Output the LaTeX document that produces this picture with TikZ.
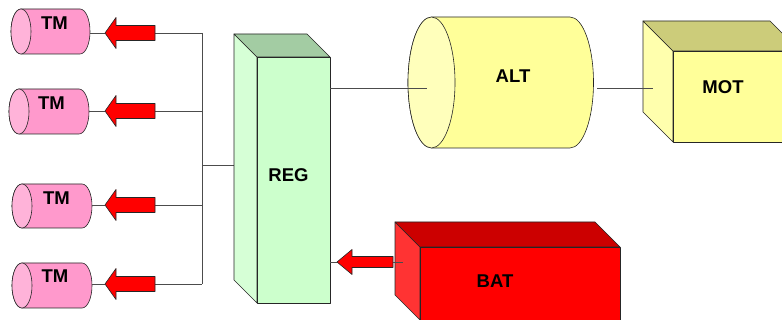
\documentclass[tikz,border=0pt]{standalone}
\usepackage{fontspec}
\setmainfont{Liberation Sans}
\begin{document}
\begin{tikzpicture}[x=1pt,y=-1pt,
  wire/.style={draw=black!70,line width=0.8pt},
  edge/.style={draw=black!85,line width=0.6pt,line join=round},
  lbl/.style={font=\fontsize{18.5}{20}\selectfont\bfseries,inner sep=0pt},
  redarrow/.style={edge,fill=red}]
\useasboundingbox (0,0) rectangle (782,320);
\clip (0,0) rectangle (782,320);

% ---------- horizontal cylinder: #1 left centre x, #2 right centre x, #3 centre y, #4 rx, #5 ry, #6 body, #7 end
\newcommand\hcyl[7]{%
  \path[edge,fill=#6] (#1,#3-#5) -- (#2,#3-#5) arc[start angle=-90,end angle=90,x radius=#4,y radius=#5]
    -- (#1,#3+#5) arc[start angle=90,end angle=270,x radius=#4,y radius=#5] -- cycle;
  \path[edge,fill=#7] (#1,#3) ellipse[x radius=#4,y radius=#5];}

% ---------- left-pointing block arrow: tip x, head x, tail x, centre y, shaft half, head half
\newcommand\larrow[6]{%
  \path[redarrow] (#1,#4) -- (#2,#4-#6) -- (#2,#4-#5) -- (#3,#4-#5) -- (#3,#4+#5)
    -- (#2,#4+#5) -- (#2,#4+#6) -- cycle;}

% ---------- box with back at upper left: back x, back y, depth, front right x, front bottom y, colours
\newcommand\pbox[8]{%
  \path[edge,fill=#7] (#1,#2) -- (#1+#3,#2+#3) -- (#1+#3,#5) -- (#1,#5-#3) -- cycle;
  \path[edge,fill=#6] (#1,#2) -- (#4-#3,#2) -- (#4,#2+#3) -- (#1+#3,#2+#3) -- cycle;
  \path[edge,fill=#8] (#1+#3,#2+#3) rectangle (#4,#5);}

\definecolor{tmbody}{HTML}{FF99CC}
\definecolor{tmend}{HTML}{FFB3D9}
\definecolor{regfront}{HTML}{CCFFCC}
\definecolor{regtop}{HTML}{A3CCA3}
\definecolor{regside}{HTML}{D6FFD6}
\definecolor{yelbody}{HTML}{FFFF99}
\definecolor{yelend}{HTML}{FFFFBB}
\definecolor{yeltop}{HTML}{CCCC7A}
\definecolor{yelside}{HTML}{FFFFAD}
\definecolor{battop}{HTML}{CC0000}
\definecolor{batside}{HTML}{FF3333}

% named anchor points
\coordinate (bus top) at (202,33);
\coordinate (bus bot) at (202,284);
\coordinate (bus reg) at (202,165);
\coordinate (reg left) at (234,165);
\coordinate (reg out) at (330,88);
\coordinate (alt in) at (427,88);
\coordinate (alt out) at (597,88);
\coordinate (mot in) at (653,88);
\coordinate (reg in) at (330,262);
\coordinate (bat tip) at (337,262);
\coordinate (bat tail) at (393,262);
\coordinate (bat out) at (403,262);

% ---------- TM cylinders
\hcyl{21}{80}{31.5}{10}{22.5}{tmbody}{tmend}
\hcyl{19}{79}{111.5}{10}{22.5}{tmbody}{tmend}
\hcyl{22}{82}{206}{10}{22}{tmbody}{tmend}
\hcyl{22}{82}{285.5}{10}{22.5}{tmbody}{tmend}
\node[lbl] (tm1) at (54.5,23) {TM};
\node[lbl] (tm2) at (51.5,103) {TM};
\node[lbl] (tm3) at (56.5,198.5) {TM};
\node[lbl] (tm4) at (55,276.5) {TM};

% short leads from arrows to cylinders
\coordinate (c1) at (90,33);  \coordinate (t1) at (105,33);  \coordinate (e1) at (155,33);
\coordinate (c2) at (89,111); \coordinate (t2) at (105,111); \coordinate (e2) at (155,111);
\coordinate (c3) at (92,205); \coordinate (t3) at (105,205); \coordinate (e3) at (155,205);
\coordinate (c4) at (92,284); \coordinate (t4) at (105,284); \coordinate (e4) at (155,284);
\foreach \i in {1,...,4} {\draw[wire] (c\i) -- (t\i);}

% bus feeding the TM branches
\draw[wire] (bus top) -- (bus bot);
\draw[wire] (e1) -- (bus top);
\draw[wire] (e2) -- (202,111);
\draw[wire] (e3) -- (202,205);
\draw[wire] (e4) -- (bus bot);
\draw[wire] (bus reg) -- (reg left);

% arrows towards the TM units
\larrow{105}{116}{155}{33}{7.5}{15.5}
\larrow{105}{116}{155}{111}{7.5}{15.5}
\larrow{105}{116}{155}{205}{7.5}{15.5}
\larrow{105}{116}{155}{284}{7.5}{15.5}

% ---------- REG block
\pbox{234}{34}{23}{330}{303}{regtop}{regside}{regfront}
\node[lbl] (reg) at (288.5,175) {REG};

% ---------- ALT cylinder
\hcyl{431.5}{570}{82.5}{23.5}{65.5}{yelbody}{yelend}
\draw[wire] (reg out) -- (alt in);
\node[lbl] (alt) at (513,76) {ALT};

% ---------- MOT block
\pbox{643}{21}{30}{800}{142}{yeltop}{yelside}{yelbody}
\draw[wire] (alt out) -- (mot in);
\node[lbl] (mot) at (723,87) {MOT};

% ---------- BAT block
\pbox{395}{222}{25}{620}{320}{battop}{batside}{red}
\node[lbl] (bat) at (495,281) {BAT};

% battery feed into REG
\draw[wire] (reg in) -- (bat tip);
\larrow{337}{352}{393}{262}{5.5}{12.5}
\draw[wire] (bat tail) -- (bat out);
\end{tikzpicture}
\end{document}
